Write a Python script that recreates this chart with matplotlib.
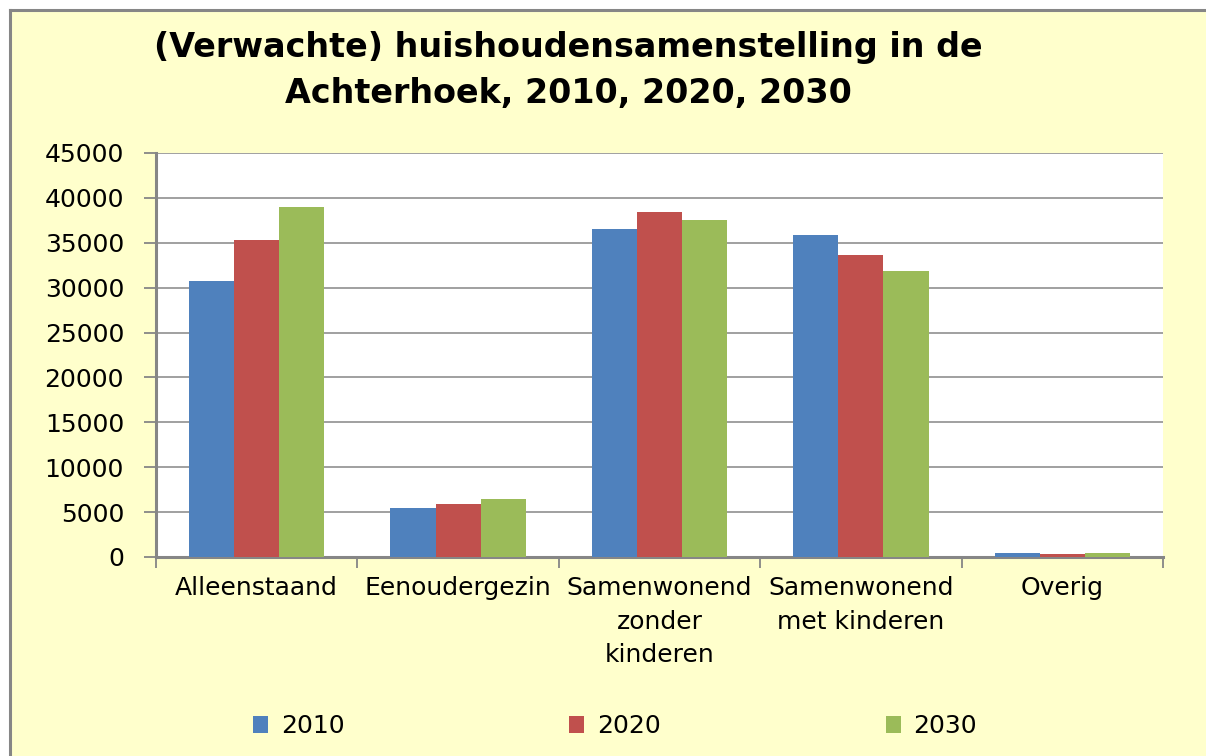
import matplotlib
matplotlib.use("Agg")
import matplotlib.pyplot as plt
from matplotlib.patches import Rectangle
from matplotlib.lines import Line2D
import numpy as np

categories = ["Alleenstaand", "Eenoudergezin", "Samenwonend\nzonder\nkinderen",
              "Samenwonend\nmet kinderen", "Overig"]
years = ["2010", "2020", "2030"]
v2010 = [30700, 5450, 36550, 35900, 450]
v2020 = [35300, 5900, 38450, 33650, 350]
v2030 = [39000, 6450, 37550, 31850, 450]
yticks = [0, 5000, 10000, 15000, 20000, 25000, 30000, 35000, 40000, 45000]
title = "(Verwachte) huishoudensamenstelling in de\nAchterhoek, 2010, 2020, 2030"

colors = ["#4F81BD", "#C0504D", "#9BBB59"]
gray = "#868686"

W, H = 1206, 756
fig = plt.figure(figsize=(W / 100, H / 100), dpi=100, facecolor="white")
plt.rcParams['font.family'] = ['DejaVu Sans']

x0, y0 = 10 / W, 1 - 10 / H
bg = Rectangle((x0, 0), 1 - x0, y0, transform=fig.transFigure,
               facecolor="#FFFFCC", edgecolor="none", zorder=-10)
fig.patches.append(bg)
fig.lines.append(Line2D([x0, x0], [0, y0], transform=fig.transFigure, color=gray, lw=2.2))
fig.lines.append(Line2D([x0, 1], [y0, y0], transform=fig.transFigure, color=gray, lw=2.2))

ax = fig.add_axes([156 / W, 1 - 557 / H, (1163 - 156) / W, (557 - 153) / H])
ax.set_facecolor("white")

x = np.arange(len(categories))
bw = 0.224
series = [v2010, v2020, v2030]
for i, (vals, c, lab) in enumerate(zip(series, colors, years)):
    ax.bar(x + (i - 1) * bw, vals, width=bw, color=c, label=lab, zorder=3)

ax.set_xlim(-0.5, len(categories) - 0.5)
ax.set_ylim(0, 45000)
ax.set_yticks(yticks)
ax.set_yticklabels([str(v) for v in yticks])
ax.yaxis.grid(True, color=gray, linewidth=1.1, zorder=0)
ax.set_axisbelow(True)

ax.set_xticks(x)
ax.set_xticklabels(categories, linespacing=1.5)
ax.set_xticks(np.arange(len(categories) + 1) - 0.5, minor=True)
ax.tick_params(axis="x", which="major", length=0, pad=14, labelsize=18, colors="black")
ax.tick_params(axis="x", which="minor", length=8, width=1.3, color=gray, direction="out")
ax.tick_params(axis="y", length=9, width=1.3, color=gray, direction="out", pad=14,
               labelsize=18, labelcolor="black")

for s in ["top", "right"]:
    ax.spines[s].set_visible(False)
for s in ["left", "bottom"]:
    ax.spines[s].set_color(gray)
    ax.spines[s].set_linewidth(2.2)

fig.text(568 / W, 1 - 71 / H, title, ha="center", va="center", fontsize=24,
         fontweight="bold", linespacing=1.5)

leg = fig.legend(loc="center", bbox_to_anchor=(615 / W, 1 - 726 / H), ncol=3,
                 frameon=False, fontsize=18, handlelength=0.6, handleheight=0.7,
                 handletextpad=0.5, columnspacing=9.0, borderpad=0)

fig.savefig("out.png", dpi=100, facecolor=fig.get_facecolor())
